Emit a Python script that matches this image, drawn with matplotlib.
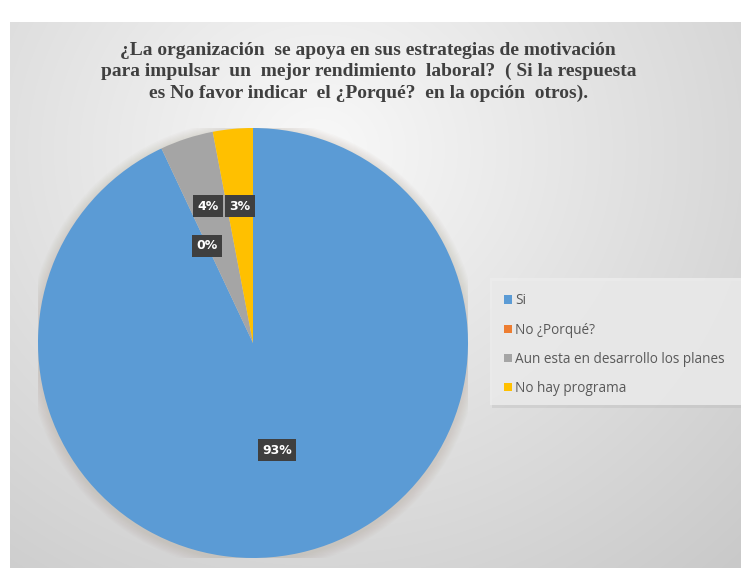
import numpy as np
import matplotlib
matplotlib.use("Agg")
import matplotlib.pyplot as plt
from matplotlib.patches import Circle, Rectangle

# respuestas de la encuesta
categorias = ["Si", "No ¿Porqué?", "Aun esta en desarrollo los planes", "No hay programa"]
porcentajes = [93, 0, 4, 3]
colores = ["#5B9BD5", "#ED7D31", "#A5A5A5", "#FFC000"]
titulo = ("¿La organización  se apoya en sus estrategias de motivación\n"
          "para impulsar  un  mejor rendimiento  laboral?  ( Si la respuesta\n"
          "es No favor indicar  el ¿Porqué?  en la opción  otros).")

W, H = 741, 572
fig = plt.figure(figsize=(W / 100, H / 100), dpi=100)
fig.patch.set_facecolor("white")

# fondo con degradado radial
bg = fig.add_axes([0, 0, 1, 1])
bg.set_axis_off()
yy, xx = np.mgrid[0:H, 0:W]
d = np.sqrt(((xx - 320) / 560.0) ** 2 + ((yy - 150) / 520.0) ** 2)
g = np.clip(0.975 - 0.17 * d, 0.78, 0.975)
img = np.dstack([g, g, g])
img[:22, :, :] = 1.0
img[:, :10, :] = 1.0
img[568:, :, :] = 1.0
bg.imshow(img, extent=[0, W, H, 0], aspect="auto")
bg.set_xlim(0, W)
bg.set_ylim(H, 0)

# caja clara detrás de la leyenda
bg.add_patch(Rectangle((492, 281), 260, 127, fc="#b8b8b8", ec="none", alpha=0.35))
bg.add_patch(Rectangle((490, 278), 260, 127, fc="#ececec", ec="none", alpha=0.85))

fig.text(0.497, 1 - 72 / H, titulo, ha="center", va="center",
         fontsize=14, fontweight="bold", family="Liberation Serif",
         color="#404040", linespacing=1.33)

cx, cy, r = 253, 343, 215
ax = fig.add_axes([(cx - r) / W, (H - cy - r) / H, 2 * r / W, 2 * r / H])
ax.set_axis_off()

# sombra suave del pastel
for k in range(8):
    ax.add_patch(Circle((0.0, -0.01), 1.0 + 0.006 * (8 - k), color="#a39682",
                        alpha=0.035, lw=0, zorder=0))

wedges, _ = ax.pie(porcentajes, colors=colores, startangle=90, counterclock=False,
                   radius=1, wedgeprops=dict(linewidth=0, zorder=2))
ax.set_xlim(-1, 1)
ax.set_ylim(-1, 1)

# etiquetas de datos
distancias = [0.51, 0.5, 0.67, 0.64]
for w, p, dist in zip(wedges, porcentajes, distancias):
    ang = np.deg2rad((w.theta1 + w.theta2) / 2)
    ax.text(dist * np.cos(ang), dist * np.sin(ang), f"{p}%", ha="center", va="center",
            fontsize=9, fontweight="bold", color="white", family="DejaVu Sans",
            zorder=5,
            bbox=dict(boxstyle="square,pad=0.35", fc="#3f3f3f", ec="none"))

leg = fig.legend(wedges, categorias, loc="upper left",
                 bbox_to_anchor=(492 / W, 1 - 281 / H),
                 frameon=False, handlelength=0.55, handleheight=0.55,
                 handletextpad=0.25, labelspacing=1.05, borderpad=0.4,
                 prop={"family": "Open Sans", "size": 9.8}, labelcolor="#595959")

fig.savefig("out.png", dpi=100)
